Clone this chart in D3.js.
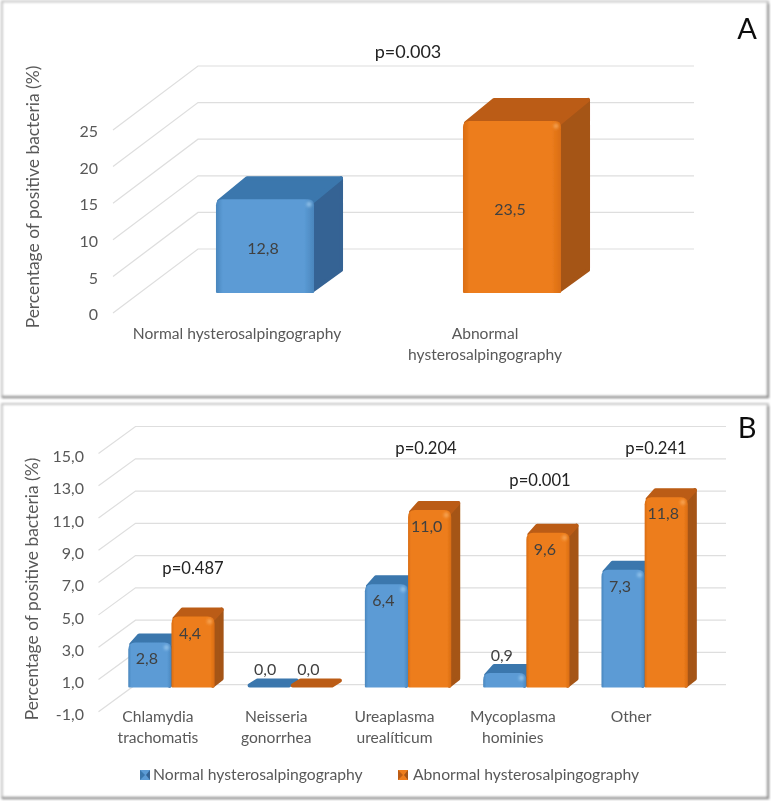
<!DOCTYPE html>
<html><head><meta charset="utf-8">
<script src="https://cdn.jsdelivr.net/npm/d3@7"></script>
<style>
html,body{margin:0;padding:0;background:#fff}
svg{display:block}
text{font-family:Lato,"Open Sans",sans-serif}
</style></head><body>
<svg id="c" width="771" height="801"></svg>
<script>
const seriesNames = ["Normal hysterosalpingography","Abnormal hysterosalpingography"];
const seriesColors = ["blue","orange"];
const catsA = ["Normal hysterosalpingography","Abnormal hysterosalpingography"];
const valuesA = [12.8,23.5];
const ticksA = [0,5,10,15,20,25];
const catsB = ["Chlamydia trachomatis","Neisseria gonorrhea","Ureaplasma urealíticum","Mycoplasma hominies","Other"];
const normalB = [2.8,0.0,6.4,0.9,7.3];
const abnormalB = [4.4,0.0,11.0,9.6,11.8];
const pB = ["p=0.487","","p=0.204","p=0.001","p=0.241"];
const ticksB = [-1,1,3,5,7,9,11,13,15];

const pal = {
 blue:{face:"#5b9bd5",edge:"#4a86bd",top:"#3b77ad",side:"#356394",hi:"#9ccaf0"},
 orange:{face:"#ed7d1c",edge:"#d96d12",top:"#bb5c14",side:"#a55417",hi:"#f9ad60"}
};
const svg = d3.select("#c");
const defs = svg.append("defs");
const blur = defs.append("filter").attr("id","soft").attr("x","-5%").attr("y","-5%").attr("width","110%").attr("height","110%");
blur.append("feGaussianBlur").attr("stdDeviation",0.45);
const sh = defs.append("filter").attr("id","fr").attr("x","-2%").attr("y","-2%").attr("width","104%").attr("height","104%");
sh.append("feGaussianBlur").attr("stdDeviation",0.8);
const hb = defs.append("filter").attr("id","hb").attr("x","-100%").attr("y","-100%").attr("width","300%").attr("height","300%");
hb.append("feGaussianBlur").attr("stdDeviation",1.5);
Object.entries(pal).forEach(([k,c])=>{
  const g=defs.append("linearGradient").attr("id","g-"+k);
  [[0,c.edge],[.07,c.face],[.9,c.face],[1,c.edge]].forEach(([o,col])=>g.append("stop").attr("offset",o).attr("stop-color",col));
});

function frame(y0,y1){
  const fg=svg.append("g").attr("filter","url(#fr)");
  fg.append("rect").attr("x",2).attr("y",y0).attr("width",766).attr("height",y1-y0)
    .attr("fill","#fff").attr("stroke","#c4c4c4").attr("stroke-width",2);
  fg.append("path").attr("fill","none").attr("stroke","#8f8f8f").attr("stroke-width",2.4)
    .attr("d",`M2,${y1}L768,${y1}L768,${y0+2}`);
}
frame(1.5,397);
frame(404,798);
const root = svg.append("g").attr("filter","url(#soft)");

const round = (g,fill,pts)=>g.append("path").attr("fill",fill).attr("stroke",fill).attr("stroke-width",4)
  .attr("stroke-linejoin","round").attr("d",d3.line()(pts)+"Z");

function bar(g,x,w,top,base,dx,dy,color,r){
  const c=pal[color], flat=base-top<1, h=2;
  if(!flat) round(g,c.side,[[x+w-3,top+h],[x+w+dx-h,top-dy+h],[x+w+dx-h,base-dy],[x+w-2,base-h]]);
  round(g,c.top,[[x+h+1,Math.min(top+h,base-h)],[x+dx+h,top-dy+h],[x+w+dx-h,top-dy+h],[x+w-1,Math.min(top+h,base-h)]]);
  if(!flat){
    const rr=Math.min(r,(base-top)/2);
    g.append("path").attr("fill",`url(#g-${color})`).attr("d",
      `M${x+1},${base}Q${x},${base} ${x},${base-1}L${x},${top+rr}Q${x},${top} ${x+rr},${top}L${x+w-rr},${top}Q${x+w},${top} ${x+w},${top+rr}L${x+w},${base-1}Q${x+w},${base} ${x+w-1},${base}Z`);
    g.append("circle").attr("cx",x+w-5).attr("cy",top+Math.min(5,(base-top)/2)).attr("r",2.5)
      .attr("fill",c.hi).attr("opacity",.85).attr("filter","url(#hb)");
  }
}

function gridAndAxis(g,y,ticks,fmt,xF,dx,dy,xEnd,labelX,textShift){
  ticks.forEach(t=>{
    g.append("path").attr("fill","none").attr("stroke","#dedede").attr("stroke-width",1.2)
      .attr("d",`M${xF},${y(t)}L${xF+dx},${y(t)-dy}L${xEnd},${y(t)-dy}`);
  });
  const ax=g.append("g").attr("transform",`translate(${labelX},${textShift})`)
    .call(d3.axisLeft(y).tickValues(ticks).tickSize(0).tickPadding(0).tickFormat(fmt));
  ax.select(".domain").remove();
  ax.selectAll("text").attr("font-size",16).attr("fill","#595959").style("font-family","Lato");
}
function ytitle(g,x,y){
  g.append("text").attr("transform",`translate(${x},${y}) rotate(-90)`).attr("text-anchor","middle")
   .attr("dy","0.35em").attr("font-size",17.4).attr("fill","#595959").text("Percentage of positive bacteria (%)");
}
function txt(g,x,y,s,size,fill,anchor){
  return g.append("text").attr("x",x).attr("y",y).attr("dy","0.35em").attr("text-anchor",anchor||"middle")
    .attr("font-size",size).attr("fill",fill).text(s);
}

// Panel A
{
  const g=root.append("g");
  const y=d3.scaleLinear().domain([0,25]).range([313,130]);
  gridAndAxis(g,y,ticksA,d3.format("d"),113,85,64,694,98,1.5);
  const x=d3.scaleBand().domain(catsA).range([141.5,635.5]).paddingInner(0.603).paddingOuter(0.3015);
  const off=20, base=y(0)-off;
  catsA.forEach((c,i)=>{
    const cl=seriesColors[i], top=y(valuesA[i])-off, X=x(c), W=x.bandwidth();
    bar(g,X,W,top,base,29,23,cl,6);
    txt(g,X+W/2-2,(top+base)/2+2,String(valuesA[i]).replace(".",","),16,"#404040");
  });
  ytitle(g,33,197);
  txt(g,237,334,catsA[0],15.6,"#595959");
  const words=catsA[1].split(" ");
  txt(g,485,334,words[0],15.6,"#595959");
  txt(g,485,355,words[1],15.6,"#595959");
  txt(g,408,52,"p=0.003",18,"#222");
  txt(g,747,29,"A",29,"#111");
}
// Panel B
{
  const g=root.append("g");
  const y=d3.scaleLinear().domain([-1,15]).range([711.7,453.5]);
  const fmt=d=>d3.format(".1f")(d).replace(".",",").replace("−","-");
  gridAndAxis(g,y,ticksB,fmt,98.5,37,27,726,84,3);
  const x=d3.scaleBand().domain(catsB).range([112.3,703.8]).paddingInner(0.27).paddingOuter(0.135);
  const sub=d3.scaleBand().domain([0,1]).range([0,x.bandwidth()]);
  const off=8, base=y(0)-off;
  catsB.forEach((c,i)=>{
    [normalB[i],abnormalB[i]].forEach((v,j)=>{
      const cl=seriesColors[j], top=y(v)-off, X=x(c)+sub(j), W=sub.bandwidth();
      bar(g,X,W,top,base,9,9,cl,7);
    });
  });
  catsB.forEach((c,i)=>{
    [normalB[i],abnormalB[i]].forEach((v,j)=>{
      const top=y(v)-off, X=x(c)+sub(j), W=sub.bandwidth();
      const ly = v>=2 ? top+16.5 : top-18;
      txt(g,X+W/2-3,ly,v.toFixed(1).replace(".",","),16,"#404040");
    });
    const labelX=x(c)+x.bandwidth()/2-13.5;
    const w=c.split(" ");
    txt(g,labelX,717,w[0],15.6,"#595959");
    if(w[1]) txt(g,labelX,738,w[1],15.6,"#595959");
  });
  ytitle(g,32,589);
  const pPos=[[193,568],null,[426,448],[540,480],[656,448]];
  pB.forEach((p,i)=>{ if(p) txt(g,pPos[i][0],pPos[i][1],p,16.6,"#222"); });
  txt(g,747,428,"B",29,"#111");
  const lg=g.append("g");
  [[140,153],[398,413]].forEach(([sx,tx],i)=>{
    const cl=seriesColors[i];
    lg.append("rect").attr("x",sx).attr("y",770).attr("width",10).attr("height",10).attr("fill",pal[cl].face);
    lg.append("path").attr("d",`M${sx},770L${sx+5},775L${sx},780Z`).attr("fill",pal[cl].top);
    lg.append("path").attr("d",`M${sx+10},770L${sx+6},775L${sx+10},780Z`).attr("fill",pal[cl].side);
    txt(lg,tx,775,seriesNames[i],15.7,"#595959","start");
  });
}
</script></body></html>
